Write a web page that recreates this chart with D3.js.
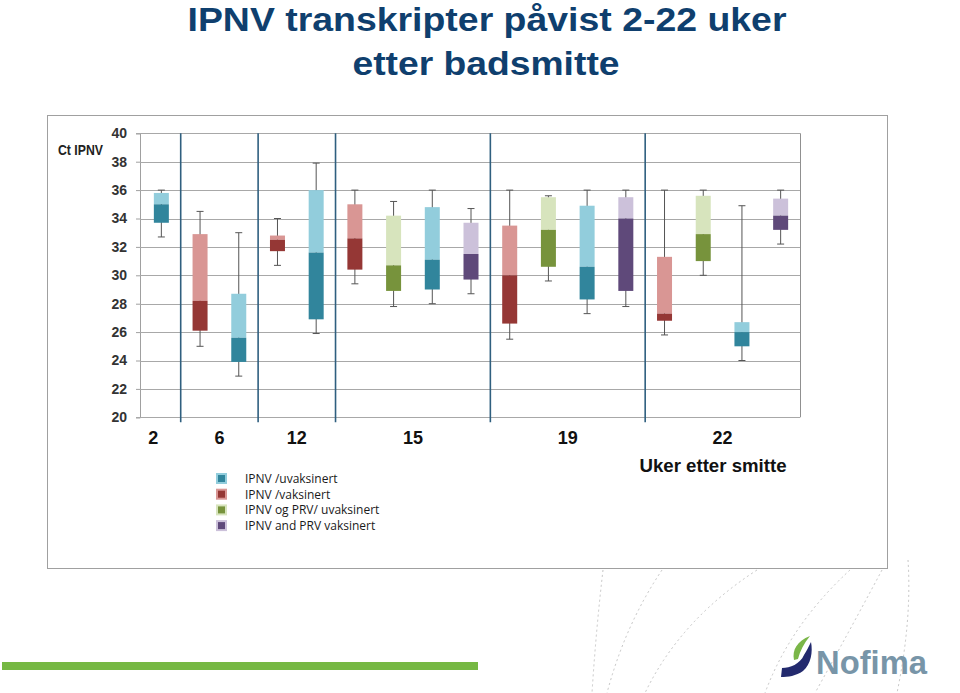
<!DOCTYPE html>
<html><head><meta charset="utf-8">
<script src="https://cdn.jsdelivr.net/npm/d3@7"></script>
<style>html,body{margin:0;padding:0;background:#fff;}svg{display:block;}</style>
</head><body>
<svg id="c" width="960" height="693"></svg>
<script>
// ---- data ----
const weeks = ["2", "6", "12", "15", "19", "22"];
const seriesNames = ["IPNV /uvaksinert", "IPNV /vaksinert", "IPNV og PRV/ uvaksinert", "IPNV and PRV vaksinert"];
const boxSeries = [0, 1, 0, 1, 0, 1, 2, 0, 3, 1, 2, 0, 3, 1, 2, 0, 3];
const boxWeek   = [0, 1, 1, 2, 2, 3, 3, 3, 3, 4, 4, 4, 4, 5, 5, 5, 5];
const mins    = [32.7, 25.0, 22.9, 30.7, 25.9, 29.4, 27.8, 28.0, 28.7, 25.5, 29.6, 27.3, 27.8, 25.8, 30.0, 24.0, 32.2];
const q1s     = [33.7, 26.1, 23.9, 31.7, 26.9, 30.4, 28.9, 29.0, 29.7, 26.6, 30.6, 28.3, 28.9, 26.8, 31.0, 25.0, 33.2];
const medians = [35.0, 28.2, 25.6, 32.5, 31.6, 32.6, 30.7, 31.1, 31.5, 30.0, 33.2, 30.6, 34.0, 27.3, 32.9, 26.0, 34.2];
const q3s     = [35.8, 32.9, 28.7, 32.8, 36.0, 35.0, 34.2, 34.8, 33.7, 33.5, 35.5, 34.9, 35.5, 31.3, 35.6, 26.7, 35.4];
const maxs    = [36.0, 34.5, 33.0, 34.0, 37.9, 36.0, 35.2, 36.0, 34.7, 36.0, 35.6, 36.0, 36.0, 36.0, 36.0, 34.9, 36.0];
const yTicks  = [20, 22, 24, 26, 28, 30, 32, 34, 36, 38, 40];

// ---- styles ----
const darkCol  = ["#31859c", "#953735", "#77933c", "#5f497a"];
const lightCol = ["#92cddc", "#d99694", "#d7e4bd", "#ccc1da"];

const svg = d3.select("#c");

// decorative dashed arcs
const arcs = [
  [[603,570],[596,630],[592,693]],
  [[662,570],[625,625],[607,693]],
  [[757,570],[680,620],[645,693]],
  [[850,570],[790,625],[765,693]],
  [[882,570],[850,630],[815,693]],
  [[908,560],[912,620],[897,693]]
];
svg.append("g").selectAll("path").data(arcs).join("path")
  .attr("d", a => `M${a[0][0]},${a[0][1]} Q${a[1][0]},${a[1][1]} ${a[2][0]},${a[2][1]}`)
  .attr("fill", "none").attr("stroke", "#c4c4c4").attr("stroke-width", 1)
  .attr("stroke-dasharray", "2,3");

// green bar
svg.append("rect").attr("x", 2).attr("y", 662).attr("width", 476).attr("height", 8).attr("fill", "#76b843");

// title
const titleFont = "'Liberation Sans', Arial, sans-serif";
svg.append("text").attr("x", 487).attr("y", 31).attr("text-anchor", "middle")
  .attr("font-family", titleFont).attr("font-weight", "bold").attr("font-size", 33)
  .attr("fill", "#0f3f6e").attr("textLength", 599).attr("lengthAdjust", "spacingAndGlyphs")
  .text("IPNV transkripter påvist 2-22 uker");
svg.append("text").attr("x", 486).attr("y", 75).attr("text-anchor", "middle")
  .attr("font-family", titleFont).attr("font-weight", "bold").attr("font-size", 34)
  .attr("fill", "#0f3f6e").attr("textLength", 267).attr("lengthAdjust", "spacingAndGlyphs")
  .text("etter badsmitte");

// frame
svg.append("rect").attr("x", 47.5).attr("y", 115.5).attr("width", 840).attr("height", 453)
  .attr("fill", "#fff").attr("stroke", "#a0a0a0").attr("stroke-width", 1);

// scales
const plotL = 140, plotR = 800, plotT = 133.3, plotB = 417.3;
const y = d3.scaleLinear().domain([20, 40]).range([plotB, plotT]);
const x = d3.scaleBand().domain(d3.range(mins.length)).range([142, plotR]).paddingInner(0).paddingOuter(0);
const cx = i => x(i) + x.bandwidth() / 2;
const bw = 15;

// gridlines + y axis
const yAxis = d3.axisLeft(y).tickValues(yTicks).tickSize(4).tickPadding(9).tickFormat(d3.format("d"));
const gy = svg.append("g").attr("transform", `translate(${plotL},0)`).call(yAxis);
gy.select(".domain").attr("stroke", "#a0a0a0");
gy.selectAll(".tick line").attr("stroke", "#a0a0a0");
gy.selectAll(".tick text").attr("font-family", "'Liberation Sans', Arial, sans-serif")
  .attr("font-weight", "bold").attr("font-size", 14).attr("fill", "#333");
svg.append("g").selectAll("line").data(yTicks).join("line")
  .attr("x1", plotL).attr("x2", plotR)
  .attr("y1", d => Math.round(y(d)) + 0.5).attr("y2", d => Math.round(y(d)) + 0.5)
  .attr("stroke", "#a8a8a8").attr("stroke-width", 1);
svg.append("line").attr("x1", plotR + 0.5).attr("x2", plotR + 0.5).attr("y1", plotT).attr("y2", plotB)
  .attr("stroke", "#909090");

svg.append("text").attr("x", 58).attr("y", 155).attr("font-family", "'Liberation Sans', Arial, sans-serif")
  .attr("font-weight", "bold").attr("font-size", 14).attr("fill", "#222")
  .attr("textLength", 45).attr("lengthAdjust", "spacingAndGlyphs").text("Ct IPNV");

// group separators
const sepIdx = [];
for (let i = 1; i < boxWeek.length; i++) if (boxWeek[i] !== boxWeek[i - 1]) sepIdx.push(i);
const sepX = sepIdx.map(i => (cx(i - 1) + cx(i)) / 2);
svg.append("g").selectAll("line").data(sepX).join("line")
  .attr("x1", d => d).attr("x2", d => d).attr("y1", plotT).attr("y2", plotB + 5)
  .attr("stroke", "#2f5f7f").attr("stroke-width", 1.6);

// boxes
const idx = d3.range(mins.length);
const gb = svg.append("g");
gb.selectAll("line.wh").data(idx).join("line").attr("class", "wh")
  .attr("x1", cx).attr("x2", cx).attr("y1", i => y(maxs[i])).attr("y2", i => y(mins[i]))
  .attr("stroke", "#555").attr("stroke-width", 1);
gb.selectAll("line.capT").data(idx).join("line").attr("class", "capT")
  .attr("x1", i => cx(i) - 3.5).attr("x2", i => cx(i) + 3.5)
  .attr("y1", i => y(maxs[i])).attr("y2", i => y(maxs[i])).attr("stroke", "#555");
gb.selectAll("line.capB").data(idx).join("line").attr("class", "capB")
  .attr("x1", i => cx(i) - 3.5).attr("x2", i => cx(i) + 3.5)
  .attr("y1", i => y(mins[i])).attr("y2", i => y(mins[i])).attr("stroke", "#555");
gb.selectAll("rect.up").data(idx).join("rect").attr("class", "up")
  .attr("x", i => cx(i) - bw / 2).attr("width", bw)
  .attr("y", i => y(q3s[i])).attr("height", i => y(medians[i]) - y(q3s[i]))
  .attr("fill", i => lightCol[boxSeries[i]]);
gb.selectAll("rect.lo").data(idx).join("rect").attr("class", "lo")
  .attr("x", i => cx(i) - bw / 2).attr("width", bw)
  .attr("y", i => y(medians[i])).attr("height", i => y(q1s[i]) - y(medians[i]))
  .attr("fill", i => darkCol[boxSeries[i]]);

// week labels
const wkFont = "'Liberation Sans', Arial, sans-serif";
svg.append("g").selectAll("text").data(weeks).join("text")
  .attr("x", (d, w) => d3.mean(idx.filter(i => boxWeek[i] === w), cx) - (w === 0 ? 8 : 0))
  .attr("y", 444).attr("text-anchor", "middle")
  .attr("font-family", wkFont).attr("font-weight", "bold").attr("font-size", 18).attr("fill", "#111")
  .text(d => d);
svg.append("text").attr("x", 713).attr("y", 472).attr("text-anchor", "middle")
  .attr("font-family", wkFont).attr("font-weight", "bold").attr("font-size", 18).attr("fill", "#111")
  .attr("textLength", 147).attr("lengthAdjust", "spacingAndGlyphs")
  .text("Uker etter smitte");

// legend
const lg = svg.append("g").attr("transform", "translate(216,473)");
const li = lg.selectAll("g").data(seriesNames).join("g").attr("transform", (d, k) => `translate(0,${k * 15.7})`);
li.append("rect").attr("x", 1).attr("y", 1).attr("width", 9).attr("height", 9)
  .attr("fill", (d, k) => darkCol[k]).attr("stroke", (d, k) => lightCol[k]).attr("stroke-width", 2);
li.append("text").attr("x", 29).attr("y", 10)
  .attr("font-family", "'Open Sans', 'Liberation Sans', sans-serif").attr("font-size", 12).attr("fill", "#1a1a1a")
  .text(d => d);

// logo
const logo = svg.append("g");
logo.append("path")
  .attr("d", "M781,677 L782,668 C790,668 800,664 804,655 C807,650 809,646 811,642 C813,652 811,664 803,671 C796,676 788,677 781,677 Z")
  .attr("fill", "#232a6e");
logo.append("path")
  .attr("d", "M794,660 C792,650 797,641 810,636 C804,643 800,651 798,659 Z")
  .attr("fill", "#7ab648");
logo.append("text").attr("x", 816).attr("y", 674)
  .attr("font-family", "'Liberation Sans', Arial, sans-serif").attr("font-weight", "bold").attr("font-size", 33)
  .attr("fill", "#7895a8").attr("textLength", 111).attr("lengthAdjust", "spacingAndGlyphs")
  .text("Nofima");
</script>
</body></html>
